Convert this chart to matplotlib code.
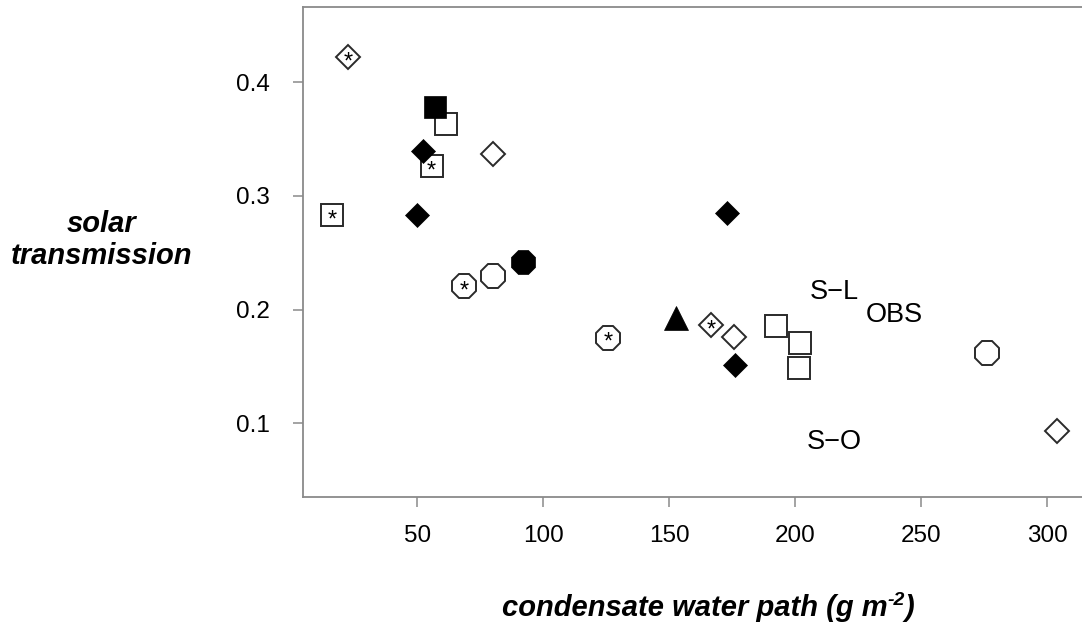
import matplotlib
matplotlib.use("Agg")
import matplotlib.pyplot as plt

plt.rcParams['font.family'] = ['Liberation Sans', 'DejaVu Sans']

# condensate water path (g m-2) and solar transmission, grouped by marker type
open_sq_x = [61.6, 192.4, 201.9, 201.6]
open_sq_y = [0.363, 0.186, 0.171, 0.1485]
fill_sq_x = [57.0]
fill_sq_y = [0.378]
star_sq_x = [16.3, 55.7]
star_sq_y = [0.283, 0.326]

open_dm_x = [79.9, 175.5, 303.6]
open_dm_y = [0.337, 0.176, 0.0936]
fill_dm_x = [52.4, 49.8, 175.9, 172.7]
fill_dm_y = [0.340, 0.283, 0.151, 0.285]
star_dm_x = [22.7, 166.6]
star_dm_y = [0.422, 0.1865]

open_oc_x = [80.1, 276.2]
open_oc_y = [0.2296, 0.1617]
fill_oc_x = [91.8]
fill_oc_y = [0.2422]
star_oc_x = [68.6, 125.7]
star_oc_y = [0.2208, 0.1754]

fill_tri_x = [152.8]
fill_tri_y = [0.193]

# annotations in the plot
labels = ["S\u2212L", "OBS", "S\u2212O"]
label_x = [215.5, 239.3, 215.5]
label_y = [0.2158, 0.1953, 0.0839]

x_ticks = [50, 100, 150, 200, 250, 300]
y_ticks = [0.1, 0.2, 0.3, 0.4]

fig = plt.figure(figsize=(10.82, 6.33), dpi=100)
ax = fig.add_axes([303 / 1082, 136 / 633, 779 / 1082, 490 / 633])

edge = '#2a2a2a'
mew = 1.4

def draw(xs, ys, marker, size, filled, star=False):
    face = 'black' if filled else 'white'
    ax.plot(xs, ys, linestyle='none', marker=marker, markersize=size,
            markerfacecolor=face, markeredgecolor=edge if not filled else 'black',
            markeredgewidth=mew if not filled else 0.5)
    if star:
        # asterisk glyph sits high in the em box, nudge it down a little
        for x, y in zip(xs, ys):
            ax.text(x, y - 0.0045, "*", fontsize=17, ha='center', va='center',
                    color='black')

draw(open_sq_x, open_sq_y, 's', 16.5, False)
draw(fill_sq_x, fill_sq_y, 's', 16.5, True)
draw(star_sq_x, star_sq_y, 's', 16.5, False, star=True)

draw(open_dm_x, open_dm_y, 'D', 12.5, False)
draw(fill_dm_x, fill_dm_y, 'D', 12.2, True)
draw(star_dm_x, star_dm_y, 'D', 12.5, False, star=True)

draw(open_oc_x, open_oc_y, '8', 19.0, False)
draw(fill_oc_x, fill_oc_y, '8', 18.6, True)
draw(star_oc_x, star_oc_y, '8', 19.0, False, star=True)

draw(fill_tri_x, fill_tri_y, '^', 17, True)

for t, x, y in zip(labels, label_x, label_y):
    ax.text(x, y, t, fontsize=19.5, ha='center', va='center', color='black')

ax.set_xlim(4.7, 313.7)
ax.set_ylim(0.0353, 0.4662)
ax.set_xticks(x_ticks)
ax.set_yticks(y_ticks)
ax.set_xticklabels([str(v) for v in x_ticks])
ax.set_yticklabels([f"{v:.1f}" for v in y_ticks])

spine_col = '#8a8a8a'
for side in ['left', 'bottom', 'top']:
    ax.spines[side].set_color(spine_col)
    ax.spines[side].set_linewidth(1.3)
ax.spines['right'].set_visible(False)
ax.tick_params(axis='both', direction='out', length=7.5, width=1.1,
               color=spine_col, labelsize=17.5, labelcolor='black')
ax.tick_params(axis='y', pad=16)
ax.tick_params(axis='x', pad=12.5)

fig.text(102 / 1082, 1 - 240 / 633, "solar\ntransmission", fontsize=21,
         fontweight='bold', fontstyle='italic', ha='center', va='center',
         multialignment='center', linespacing=1.15)

# x label built from pieces so the superscript uses a plain hyphen
renderer = fig.canvas.get_renderer()
lab_kw = dict(fontweight='bold', fontstyle='italic', va='baseline')
base_y = 1 - 616 / 633
main = fig.text(0, base_y, "condensate water path (g m", fontsize=21, **lab_kw)
sup = fig.text(0, base_y + 11 / 633, "-2", fontsize=14, **lab_kw)
close = fig.text(0, base_y, ")", fontsize=21, **lab_kw)
w_main = main.get_window_extent(renderer).width
w_sup = sup.get_window_extent(renderer).width
w_close = close.get_window_extent(renderer).width
total = w_main + w_sup + w_close
start = 708 - total / 2
main.set_x(start / 1082)
sup.set_x((start + w_main) / 1082)
close.set_x((start + w_main + w_sup) / 1082)

fig.savefig("out.png", dpi=100)
